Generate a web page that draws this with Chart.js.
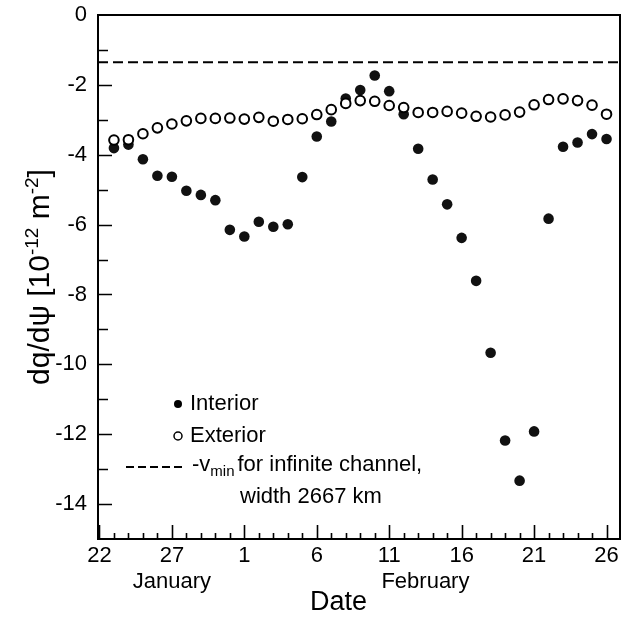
<!DOCTYPE html>
<html>
<head>
<meta charset="utf-8">
<script src="https://cdn.jsdelivr.net/npm/chart.js@4.4.1/dist/chart.umd.min.js"></script>
<style>
  html, body { margin: 0; padding: 0; background: #fff; }
</style>
</head>
<body>
<canvas id="chart" width="628" height="617"></canvas>
<script>
// ---- data (day 0 = 22 January) ----
const dayOffsets = [1, 2, 3, 4, 5, 6, 7, 8, 9, 10, 11, 12, 13, 14, 15, 16, 17, 18,
  19, 20, 21, 22, 23, 24, 25, 26, 27, 28, 29, 30, 31, 32, 33, 34, 35];

const interior = [-3.81, -3.71, -4.13, -4.60, -4.63, -5.03, -5.15, -5.30, -6.15, -6.34,
  -5.92, -6.06, -5.99, -4.64, -3.48, -3.05, -2.39, -2.15, -1.73, -2.18,
  -2.84, -3.83, -4.71, -5.42, -6.38, -7.61, -9.67, -12.18, -13.33, -11.92,
  -5.83, -3.77, -3.65, -3.41, -3.55];

const exterior = [-3.58, -3.57, -3.40, -3.23, -3.12, -3.03, -2.96, -2.96, -2.95, -2.98,
  -2.93, -3.04, -2.99, -2.97, -2.85, -2.71, -2.53, -2.45, -2.47, -2.59,
  -2.65, -2.79, -2.79, -2.76, -2.81, -2.90, -2.92, -2.86, -2.78, -2.57,
  -2.42, -2.40, -2.45, -2.58, -2.84];

const vMin = -1.35;

const xMin = -0.1, xMax = 35.93;
const majorDays = [0, 5, 10, 15, 20, 25, 30, 35];
const majorLabels = ['22', '27', '1', '6', '11', '16', '21', '26'];
const yLabels = [0, -2, -4, -6, -8, -10, -12, -14];
const monthNames = ['January', 'February'];
const monthCenters = [5, 22.5];

const FONT = '"Liberation Sans", Arial, Helvetica, sans-serif';

function noPad(s) {
  s.paddingLeft = 0; s.paddingRight = 0;
  s.paddingTop = 0; s.paddingBottom = 0;
}

// ---- 枠・内向き目盛・凡例・軸タイトル ----
const decorPlugin = {
  id: 'decor',
  afterDraw(chart) {
    const ctx = chart.ctx;
    const { left, right, top, bottom } = chart.chartArea;
    const xs = chart.scales.x, ys = chart.scales.y;
    ctx.save();
    ctx.strokeStyle = '#000';
    ctx.fillStyle = '#000';

    // inward ticks
    ctx.lineWidth = 1.6;
    ctx.beginPath();
    for (let d = 0; d <= 35; d++) {
      const px = Math.round(xs.getPixelForValue(d)) + 0.5;
      const len = d % 5 === 0 ? 14 : 6;
      ctx.moveTo(px, bottom);
      ctx.lineTo(px, bottom - len);
    }
    for (let v = -14; v <= -1; v++) {
      const py = Math.round(ys.getPixelForValue(v)) + 0.5;
      const len = v % 2 === 0 ? 14 : 10;
      ctx.moveTo(left, py);
      ctx.lineTo(left + len, py);
    }
    ctx.stroke();

    // frame
    ctx.lineWidth = 2;
    ctx.strokeRect(left, top, right - left, bottom - top);

    // month labels + axis title
    ctx.textAlign = 'center';
    ctx.textBaseline = 'middle';
    ctx.font = '22px ' + FONT;
    monthNames.forEach((m, i) => {
      ctx.fillText(m, xs.getPixelForValue(monthCenters[i]), 582);
    });
    ctx.font = '27px ' + FONT;
    ctx.fillText('Date', xs.getPixelForValue(16.5), 603);

    // y title with superscripts
    const parts = [
      { t: 'dq/dψ [10', s: false },
      { t: '-12', s: true },
      { t: ' m', s: false },
      { t: '-2', s: true },
      { t: ']', s: false }
    ];
    const big = '30px ' + FONT, small = '19px ' + FONT;
    let total = 0;
    parts.forEach(p => { ctx.font = p.s ? small : big; p.w = ctx.measureText(p.t).width; total += p.w; });
    ctx.translate(38, (top + bottom) / 2);
    ctx.rotate(-Math.PI / 2);
    ctx.textAlign = 'left';
    ctx.textBaseline = 'alphabetic';
    let cx = -total / 2;
    parts.forEach(p => {
      ctx.font = p.s ? small : big;
      ctx.fillText(p.t, cx, p.s ? 0 : 11);
      cx += p.w;
    });
    ctx.setTransform(1, 0, 0, 1, 0, 0);

    // legend
    ctx.font = '22px ' + FONT;
    ctx.textAlign = 'left';
    ctx.textBaseline = 'middle';
    ctx.beginPath();
    ctx.arc(178, 404, 4, 0, Math.PI * 2);
    ctx.fill();
    ctx.fillText('Interior', 190, 404);

    ctx.lineWidth = 1.5;
    ctx.beginPath();
    ctx.arc(178, 436, 4, 0, Math.PI * 2);
    ctx.stroke();
    ctx.fillText('Exterior', 190, 436);

    ctx.lineWidth = 2;
    ctx.setLineDash([8, 4]);
    ctx.beginPath();
    ctx.moveTo(126, 467);
    ctx.lineTo(182, 467);
    ctx.stroke();
    ctx.setLineDash([]);
    ctx.fillText('-v', 192, 465);
    let w = ctx.measureText('-v').width;
    ctx.font = '15px ' + FONT;
    ctx.fillText('min', 192 + w, 472);
    w += ctx.measureText('min').width + 3;
    ctx.font = '22px ' + FONT;
    ctx.fillText('for infinite channel,', 192 + w, 465);
    ctx.fillText('width 2667 km', 240, 497);
    ctx.restore();
  }
};

new Chart(document.getElementById('chart'), {
  type: 'scatter',
  data: {
    datasets: [
      {
        label: 'Exterior',
        data: dayOffsets.map((d, i) => ({ x: d, y: exterior[i] })),
        pointRadius: 4.8,
        pointBorderWidth: 2,
        pointBorderColor: '#000',
        pointBackgroundColor: '#fff',
        order: 0
      },
      {
        label: 'Interior',
        data: dayOffsets.map((d, i) => ({ x: d, y: interior[i] })),
        pointRadius: 5.3,
        pointBorderWidth: 0,
        pointBackgroundColor: '#111',
        order: 1
      },
      {
        label: '-vmin',
        data: [{ x: xMin, y: vMin }, { x: xMax, y: vMin }],
        showLine: true,
        borderColor: '#000',
        borderWidth: 2,
        borderDash: [10, 5],
        pointRadius: 0,
        order: 2
      }
    ]
  },
  options: {
    responsive: false,
    animation: false,
    layout: { padding: { top: 15, right: 8, left: 0, bottom: 0 } },
    plugins: { legend: { display: false }, tooltip: { enabled: false } },
    scales: {
      x: {
        type: 'linear',
        min: xMin,
        max: xMax,
        afterBuildTicks: s => { s.ticks = majorDays.map(v => ({ value: v })); },
        afterFit: s => { s.height = 78; noPad(s); },
        grid: { display: false, drawTicks: false },
        border: { display: false },
        ticks: {
          autoSkip: false,
          maxRotation: 0,
          padding: 4,
          color: '#000',
          font: { family: FONT, size: 22 },
          callback: v => majorLabels[majorDays.indexOf(v)] ?? ''
        }
      },
      y: {
        min: -15,
        max: 0,
        afterBuildTicks: s => { s.ticks = yLabels.map(v => ({ value: v })); },
        afterFit: s => { s.width = 98; noPad(s); },
        grid: { display: false, drawTicks: false },
        border: { display: false },
        ticks: {
          padding: 11,
          color: '#000',
          font: { family: FONT, size: 22 },
          callback: v => String(v)
        }
      }
    }
  },
  plugins: [decorPlugin]
});
</script>
</body>
</html>
